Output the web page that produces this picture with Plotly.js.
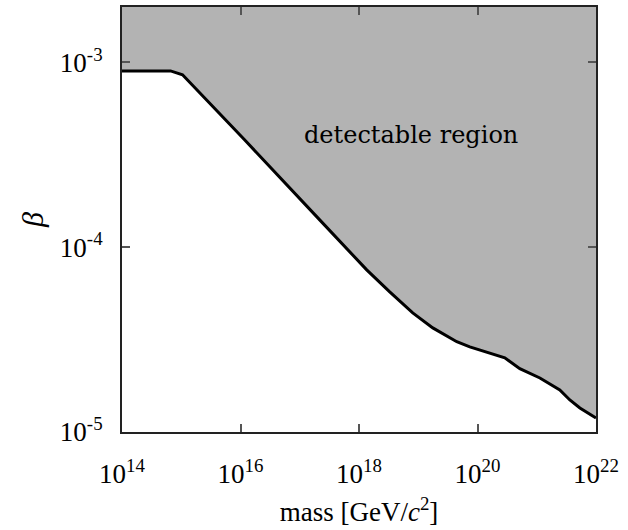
<!DOCTYPE html>
<html>
<head>
<meta charset="utf-8">
<script src="https://cdn.plot.ly/plotly-3.0.1.min.js"></script>
<style>html,body{margin:0;padding:0;background:#fff;}#chart{width:628px;height:530px;}</style>
</head>
<body>
<div id="chart"></div>
<script>
// Sensitivity boundary (mass in GeV/c^2, beta)
const mass = [1e14, 6.6e14, 1.05e15, 1.17e16, 2.17e17, 1.35e18, 3.3e18, 8.07e18, 1.76e19, 4.47e19, 7.41e19, 2.89e20, 5.18e20, 1.13e21, 2.45e21, 3.62e21, 5.35e21, 1e22];
const beta = [9.0e-4, 9.0e-4, 8.58e-4, 3.815e-4, 1.406e-4, 7.54e-5, 5.73e-5, 4.41e-5, 3.66e-5, 3.08e-5, 2.89e-5, 2.52e-5, 2.20e-5, 1.96e-5, 1.69e-5, 1.49e-5, 1.35e-5, 1.19e-5];
const fillTop = 1e-2;

const xTickVals = [1e14, 1e16, 1e18, 1e20, 1e22];
const xTickText = ["10<sup>14</sup>", "10<sup>16</sup>", "10<sup>18</sup>", "10<sup>20</sup>", "10<sup>22</sup>"];
const yTickVals = [1e-5, 1e-4, 1e-3];
const yTickText = ["10<sup>-5</sup>", "10<sup>-4</sup>", "10<sup>-3</sup>"];

const regionLabel = "detectable region";

const fillX = mass.concat([mass[mass.length - 1], mass[0]]);
const fillY = beta.concat([fillTop, fillTop]);

const traces = [
  {x: fillX, y: fillY, type: 'scatter', mode: 'lines', fill: 'toself',
   fillcolor: '#b3b3b3', line: {width: 0}, hoverinfo: 'skip', showlegend: false},
  {x: mass, y: beta, type: 'scatter', mode: 'lines',
   line: {color: '#000', width: 3}, showlegend: false}
];

const serif = "Liberation Serif, Times New Roman, serif";
const axisCommon = {
  type: 'log', showline: true, linecolor: '#222', linewidth: 2, mirror: 'ticks',
  ticks: 'inside', ticklen: 8, tickwidth: 2, tickcolor: '#555',
  showgrid: false, zeroline: false, tickmode: 'array',
  tickfont: {family: serif, size: 27, color: '#000'}
};

const layout = {
  width: 628, height: 530,
  margin: {l: 122, r: 32, t: 7, b: 98},
  paper_bgcolor: '#fff', plot_bgcolor: '#fff',
  showlegend: false,
  xaxis: Object.assign({}, axisCommon, {
    range: [14, 22], tickvals: xTickVals, ticktext: xTickText,
    ticklabelstandoff: 17,
    title: {text: "mass [GeV/<i>c</i><sup>2</sup>]", font: {family: serif, size: 27, color: '#000'}, standoff: 14}
  }),
  yaxis: Object.assign({}, axisCommon, {
    range: [-5, -2.70], tickvals: yTickVals, ticktext: yTickText,
    ticklabelstandoff: 12,
    title: {text: "<i>β</i>", font: {family: serif, size: 30, color: '#000'}, standoff: 7}
  }),
  annotations: [{
    x: 18.87, y: -3.39, xref: 'x', yref: 'y', text: regionLabel, showarrow: false,
    font: {family: "DejaVu Serif, serif", size: 24, color: '#000'}
  }]
};

Plotly.newPlot('chart', traces, layout, {displayModeBar: false, staticPlot: true});
</script>
</body>
</html>
